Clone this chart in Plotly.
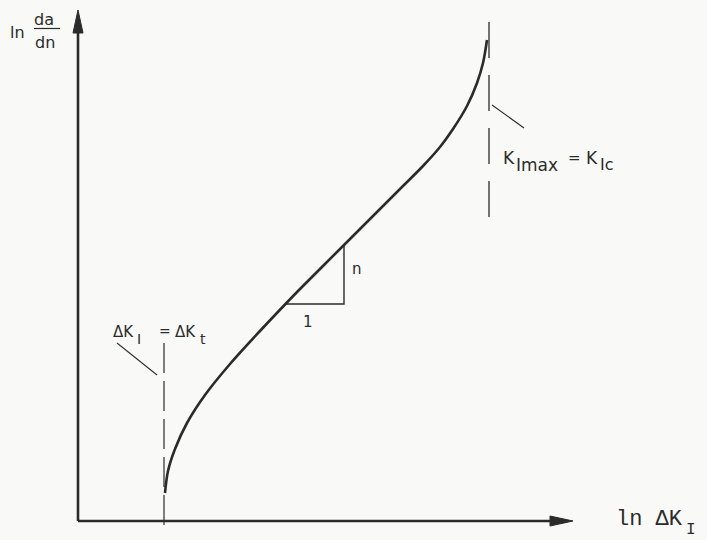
import plotly.graph_objects as go

# Fatigue crack growth curve: ln(da/dn) against ln(ΔK_I), in drawing units
ln_dk = [8.7, 9.0, 9.7, 10.9, 12.7, 15.2, 18.2, 20.7, 22.2, 26.5, 28.5,
         30.5, 32.5, 34.5, 36.2, 37.5, 38.9, 39.9, 40.5, 40.9]
ln_dadn = [2.8, 5.0, 7.2, 9.8, 12.6, 15.7, 19.0, 21.65, 23.2, 27.5, 29.5,
           31.5, 33.5, 35.5, 37.4, 39.2, 41.5, 43.8, 45.8, 48.1]

# Threshold (ΔK_t) and fracture toughness (K_Ic) marker lines
dk_threshold = 8.6
threshold_span = [-0.9, 17.8]
k_ic = 41.1
k_ic_span = [29.6, 49.9]

# Slope triangle on the straight (Paris) part of the curve
slope_run = [20.7, 26.6]
slope_rise = [21.7, 27.6]

# Axis extents
x_axis_end = 49.5
y_axis_end = 51.1

INK = "#2b2b2b"
BG = "#f9f9f7"
SANS = "DejaVu Sans"
MONO = "Liberation Mono"

fig = go.Figure()


def line(xs, ys, width=1.3, dash="solid", color=INK, shape="linear"):
    fig.add_trace(go.Scatter(
        x=xs, y=ys, mode="lines", hoverinfo="skip", showlegend=False,
        line=dict(color=color, width=width, dash=dash, shape=shape, smoothing=0.9),
    ))


# axes with arrowheads
head_len, head_half = 2.3, 0.5
line([0, x_axis_end - head_len], [0, 0], width=2.6)
line([0, 0], [0, y_axis_end - head_len], width=2.6)
fig.add_trace(go.Scatter(
    x=[x_axis_end, x_axis_end - head_len, x_axis_end - head_len, x_axis_end],
    y=[0, head_half, -head_half, 0],
    mode="lines", fill="toself", fillcolor=INK, line=dict(color=INK, width=1),
    hoverinfo="skip", showlegend=False,
))
fig.add_trace(go.Scatter(
    x=[0, head_half, -head_half, 0],
    y=[y_axis_end, y_axis_end - head_len, y_axis_end - head_len, y_axis_end],
    mode="lines", fill="toself", fillcolor=INK, line=dict(color=INK, width=1),
    hoverinfo="skip", showlegend=False,
))

# dashed markers for ΔK_t and K_Ic, both drawn from the top down
line([dk_threshold, dk_threshold], threshold_span[::-1], width=1.2, dash="30px,8px")
line([k_ic, k_ic], k_ic_span[::-1], width=1.3, dash="36px,17px")

# leader lines from the labels
line([3.9, 7.9], [17.8, 14.6], width=1.1)
line([41.4, 44.6], [41.6, 39.3], width=1.1)

# slope triangle
line([slope_run[0], slope_run[1], slope_run[1]],
     [slope_rise[0], slope_rise[0], slope_rise[1]], width=1.4)

# crack growth curve
line(ln_dk, ln_dadn, width=2.6, shape="spline")


def text(x, y, s, size, family=SANS, xanchor="left", yanchor="middle"):
    fig.add_annotation(x=x, y=y, text=s, showarrow=False, xanchor=xanchor,
                       yanchor=yanchor, font=dict(family=family, size=size, color=INK),
                       borderpad=0, borderwidth=0)


# y-axis title: ln da/dn
text(-6.05, 48.9, "ln", 16, xanchor="center")
text(-3.4, 50.2, "da", 16, xanchor="center")
text(-3.3, 47.85, "dn", 16, xanchor="center")
line([-4.4, -1.8], [49.25, 49.25], width=1.2)

# x-axis title: ln ΔK_I
text(53.8, 0.2, "ln ΔK", 22, family=MONO)
text(61.3, -0.85, "I", 16, family=MONO, xanchor="center")

# ΔK_I = ΔK_t
text(3.5, 18.9, "ΔK", 15)
text(5.9, 18.25, "I", 14)
text(8.1, 19.0, "=", 14)
text(9.7, 18.9, "ΔK", 15)
text(12.2, 18.2, "t", 14)

# K_Imax = K_Ic
text(42.5, 36.35, "K", 17)
text(43.8, 35.65, "Imax", 17)
text(49.0, 36.3, "=", 15)
text(50.8, 36.35, "K", 17)
text(52.2, 35.65, "Ic", 16)

# slope labels
text(23.0, 19.9, "1", 15, xanchor="center")
text(27.9, 25.2, "n", 15, xanchor="center")

fig.update_layout(
    width=707, height=540,
    margin=dict(l=0, r=0, t=0, b=0),
    paper_bgcolor=BG, plot_bgcolor=BG,
    xaxis=dict(range=[-7.8, 62.9], visible=False, fixedrange=True),
    yaxis=dict(range=[-1.9, 52.1], visible=False, fixedrange=True),
    showlegend=False,
)

fig.write_html("out.html")
